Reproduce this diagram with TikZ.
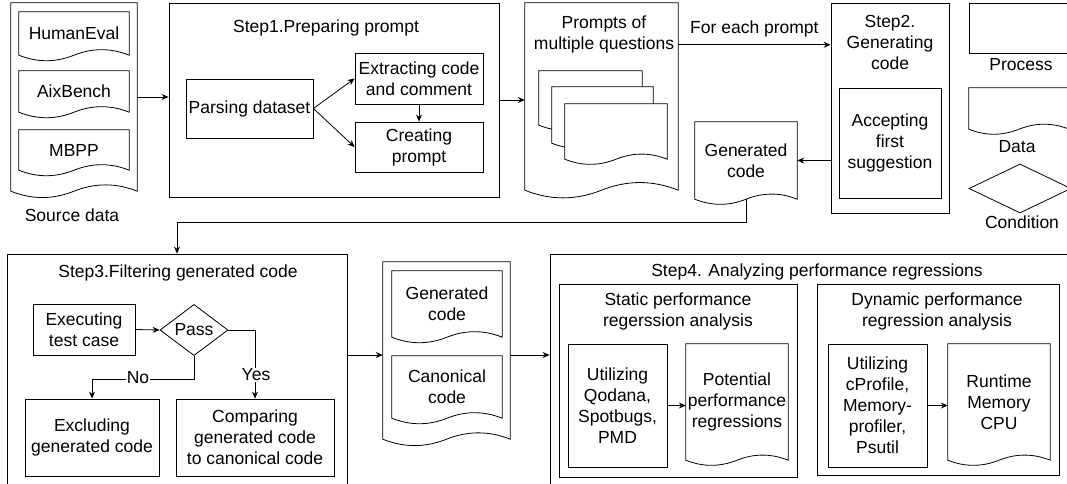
\documentclass[tikz,border=0pt]{standalone}
\usepackage{fontspec}
\setmainfont{Liberation Sans}
\usetikzlibrary{arrows.meta,calc,shapes.geometric}

\tikzset{
  base/.style={font=\fontsize{17.5}{21}\selectfont, align=center, inner sep=0pt},
  dims/.style 2 args={minimum width=#1pt, minimum height=#2pt},
  procbox/.style={base, draw, rectangle, line width=0.8pt},
  docbox/.style={base, rectangle},
  condbox/.style={base, draw, diamond, line width=0.8pt},
  docpath/.style={draw, line width=0.8pt},
  arr/.style={-{Stealth[length=7pt,width=6pt]}, line width=0.8pt},
  tag/.style={base, fill=white, inner sep=1pt},
}
% outline of a document shape: straight top and sides, wavy bottom below the node
\newcommand\docline[2][]{%
  \path[docpath,#1] let \p1=(#2.north west), \p2=(#2.south east),
    \n1={\x2-\x1}, \n2={0.05*\n1} in
    (\p1) -- (\x2,\y1) -- (\p2)
    .. controls ({\x1+0.8333*\n1},{\y2+1.333*\n2}) and ({\x1+0.6667*\n1},{\y2+1.333*\n2}) .. ({\x1+0.5*\n1},\y2)
    .. controls ({\x1+0.3333*\n1},{\y2-1.333*\n2}) and ({\x1+0.1667*\n1},{\y2-1.333*\n2}) .. (\x1,\y2) -- cycle;}

\begin{document}
\begin{tikzpicture}[x=1pt, y=-1pt]
\useasboundingbox (0,0) rectangle (1067,483);
\clip (0,0) rectangle (1067,483);

% source data
\node[docbox, dims={126}{188}] (src) at (74,97) {};
\docline{src}
\node[docbox, dims={110}{43}] (he) at (74,33.5) {HumanEval};
\docline{he}
\node[docbox, dims={110}{41}] (aix) at (74,91.5) {AixBench};
\docline{aix}
\node[docbox, dims={110}{40}] (mbpp) at (74,150) {MBPP};
\docline{mbpp}
\node[base] (srclbl) at (72,215) {Source data};

% step 1
\node[procbox, dims={330}{194}] (step1) at (334,100) {};
\node[base] (step1t) at (326,28) {Step1.Preparing prompt};
\node[procbox, dims={127}{59}] (parse) at (249.5,108.5) {Parsing dataset};
\node[procbox, dims={128}{51}] (extract) at (419,78.5) {Extracting code\\and comment};
\node[procbox, dims={128}{50}] (create) at (419,147) {Creating\\prompt};

% prompts
\node[docbox, dims={153}{187}] (prompts) at (601.5,96.5) {};
\docline{prompts}
\node[base] (promptst) at (604,34.5) {Prompts of\\multiple questions};
\node[docbox, dims={103}{54}] (stackA) at (590.5,98) {};
\node[docbox, dims={101}{56}] (stackB) at (602.5,115) {};
\node[docbox, dims={102}{55}] (stackC) at (616,131.5) {};
\docline[fill=white]{stackA}
\docline[fill=white]{stackB}
\docline[fill=white]{stackC}

% step 2
\node[procbox, dims={118}{210}] (step2) at (890,108) {};
\node[base] (step2t) at (890,42) {Step2.\\Generating\\code};
\node[procbox, dims={102}{110}] (accept) at (890,143) {Accepting\\first\\suggestion};
\node[docbox, dims={102}{77}] (gen) at (746,160.5) {Generated\\code};
\docline{gen}

% legend
\node[procbox, dims={100}{50}] (legproc) at (1019,28) {};
\node[base] (legproct) at (1021,65) {Process};
\node[docbox, dims={100}{41}] (legdata) at (1019,108.5) {};
\docline{legdata}
\node[base] (legdatat) at (1017,147) {Data};
\node[condbox, dims={102}{49}] (legcond) at (1020,188.5) {};
\node[base] (legcondt) at (1022,222) {Condition};

% step 3
\node[procbox, dims={340}{266}] (step3) at (177,387) {};
\node[base] (step3t) at (178,273) {Step3.Filtering generated code};
\node[procbox, dims={102}{51}] (exec) at (84,329.5) {Executing\\test case};
\node[condbox, dims={68}{50}] (pass) at (194,330) {Pass};
\node[procbox, dims={134}{77}] (excl) at (92,437.5) {Excluding\\generated code};
\node[procbox, dims={158}{77}] (comp) at (255,437.5) {Comparing\\generated code\\to canonical code};

% generated and canonical code
\node[docbox, dims={127}{177}] (gcdoc) at (446.5,350.5) {};
\docline{gcdoc}
\node[docbox, dims={110}{66}] (gcgen) at (447,304) {Generated\\code};
\docline{gcgen}
\node[docbox, dims={110}{62}] (gccan) at (447,387) {Canonical\\code};
\docline{gccan}

% step 4
\node[procbox, dims={535}{266}] (step4) at (817.5,387) {};
\node[base] (step4t) at (817,272) {Step4. Analyzing performance regressions};
\node[procbox, dims={238}{193}] (static) at (678,380.5) {};
\node[base] (statict) at (678,311) {Static performance\\regerssion analysis};
\node[procbox, dims={99}{123}] (qodana) at (617.5,405.5) {Utilizing\\Qodana,\\Spotbugs,\\PMD};
\node[docbox, dims={102}{116}] (potential) at (737,402) {Potential\\performance\\regressions};
\docline{potential}
\node[procbox, dims={242}{191}] (dynamic) at (938,379.5) {};
\node[base] (dynamict) at (937,311.5) {Dynamic performance\\regression analysis};
\node[procbox, dims={99}{123}] (cprof) at (877.5,405.5) {Utilizing\\cProfile,\\Memory-\\profiler,\\Psutil};
\node[docbox, dims={102}{116}] (runtime) at (999,402) {Runtime\\Memory\\CPU};
\docline{runtime}

% connectors
\draw[arr] (src.east) -- (src.east -| step1.west);
\draw[arr] (parse.east) -- (extract.west);
\draw[arr] (parse.east) -- (create.west);
\draw[arr] (extract) -- (create);
\draw[arr] (step1.east) -- (step1.east -| prompts.west);
\coordinate (feA) at ([yshift=-42pt]prompts.north east);
\draw[arr] (feA) -- (feA -| step2.west) node[base, midway, above=7pt] (forlbl) {For each prompt};
\draw[arr] (step2.west |- gen.east) -- (gen.east);
\draw[arr] (gen.south) -- ++(0,23) -| (step3.north);
\draw[arr] (exec.east) -- (pass.west);
\draw[arr] (pass.south) -- ++(0,23) -| (excl.north);
\draw[arr] (pass.east) -| (comp.north);
\node[tag] (nolbl) at (138,378) {No};
\node[tag] (yeslbl) at (256,375) {Yes};
\coordinate (gcin) at (0,355);
\draw[arr] (step3.east |- gcin) -- (gcdoc.west |- gcin);
\draw[arr] (gcdoc.east |- gcin) -- (step4.west |- gcin);
\draw[arr] (qodana.east) -- (qodana.east -| potential.west);
\draw[arr] (cprof.east) -- (cprof.east -| runtime.west);
\end{tikzpicture}
\end{document}
